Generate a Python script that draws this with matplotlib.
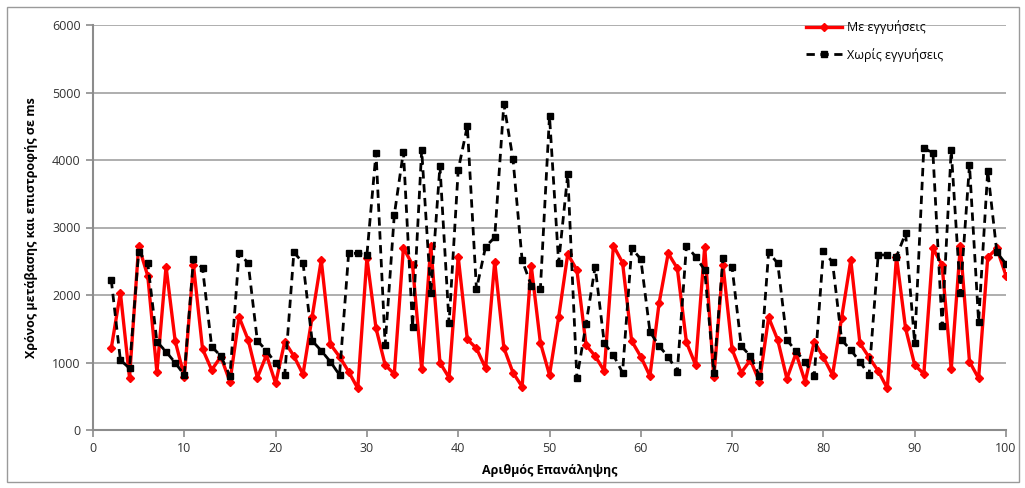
import matplotlib
matplotlib.use("Agg")
import matplotlib.pyplot as plt
from matplotlib.patches import Rectangle

plt.rcParams['font.family'] = ['Open Sans', 'DejaVu Sans']

iterations = list(range(2, 101))

with_guarantees = [
    1210, 2035, 775, 2726, 2281, 854, 2420, 1319, 790,            # 2-10
    2444, 1200, 890, 1086, 716, 1674, 1333, 775, 1111, 691,        # 11-20
    1309, 1096, 825, 1674, 2518, 1270, 1086, 864, 617, 2550,       # 21-30
    1506, 963, 830, 2701, 2444, 899, 2730, 997, 775, 2568,         # 31-40
    1343, 1210, 914, 2494, 1220, 849, 642, 2434, 1294, 815,        # 41-50
    1669, 2607, 2370, 1259, 1096, 874, 2730, 2479, 1319, 1086,     # 51-60
    800, 1877, 2617, 2395, 1299, 963, 2716, 780, 2444, 1195,       # 61-70
    849, 1037, 716, 1669, 1333, 760, 1136, 716, 1309, 1077,        # 71-80
    815, 1664, 2518, 1284, 1077, 874, 617, 2568, 1506, 963,        # 81-90
    830, 2691, 2444, 899, 2730, 1012, 766, 2558, 2691, 2286,       # 91-100
]

without_guarantees = [
    2222, 1037, 914, 2642, 2469, 1309, 1160, 997, 815,            # 2-10
    2533, 2395, 1235, 1096, 800, 2627, 2469, 1323, 1175, 988,      # 11-20
    815, 2632, 2479, 1323, 1175, 1012, 815, 2617, 2617, 2593,      # 21-30
    4109, 1259, 3185, 4123, 1531, 4148, 2025, 3911, 1580, 3852,    # 31-40
    4504, 2084, 2716, 2854, 4830, 4015, 2518, 2138, 2089, 4652,    # 41-50
    2479, 3788, 766, 1566, 2420, 1284, 1111, 849, 2691, 2533,      # 51-60
    1457, 1244, 1086, 864, 2730, 2568, 2370, 840, 2543, 2410,      # 61-70
    1244, 1096, 800, 2632, 2469, 1333, 1170, 1003, 805, 2657,      # 71-80
    2484, 1333, 1185, 1012, 815, 2593, 2593, 2568, 2914, 1284,     # 81-90
    4183, 4099, 1541, 4148, 2025, 3926, 1605, 3842, 2632, 2459,    # 91-100
]

series_labels = ['Με εγγυήσεις', 'Χωρίς εγγυήσεις']
x_label = 'Αριθμός Επανάληψης'
y_label = 'Χρόνος μετάβασης και επιστροφής σε ms'
x_ticks = list(range(0, 101, 10))
y_ticks = list(range(0, 6001, 1000))

W, H = 1025, 488
fig = plt.figure(figsize=(W / 100, H / 100), dpi=100)
fig.patches.append(Rectangle((7 / W, 6 / H), (1019 - 7) / W, (481 - 6) / H,
                             transform=fig.transFigure, fill=False,
                             edgecolor='#9a9a9a', linewidth=1.0))

ax = fig.add_axes([93 / W, (H - 430) / H, (1006 - 93) / W, (430 - 25) / H])

ax.plot(iterations, with_guarantees, color='#ff0000', linewidth=2.4,
        marker='D', markersize=4.5, label=series_labels[0], zorder=3)
ax.plot(iterations, without_guarantees, color='black', linewidth=2.0,
        linestyle=(0, (3, 2)), marker='s', markersize=5,
        label=series_labels[1], zorder=4)

ax.set_xlim(0, 100)
ax.set_ylim(0, 6000)
ax.set_xticks(x_ticks)
ax.set_yticks(y_ticks)

ax.yaxis.grid(True, color='#a8a8a8', linewidth=1.3)
ax.set_axisbelow(True)
for s in ['top', 'right']:
    ax.spines[s].set_visible(False)
for s in ['left', 'bottom']:
    ax.spines[s].set_color('#8c8c8c')
    ax.spines[s].set_linewidth(1.5)

ax.tick_params(axis='both', direction='out', length=5, width=1.2,
               color='#8c8c8c', labelsize=9, labelcolor='#333333', pad=4)

ax.set_xlabel(x_label, fontsize=9, fontweight='bold', labelpad=6)
ax.set_ylabel(y_label, fontsize=9, fontweight='bold', labelpad=10)

leg = ax.legend(loc='upper left', bbox_to_anchor=(0.781, 1.012),
                frameon=False, fontsize=9, handlelength=2.9,
                handletextpad=0.4, labelspacing=1.1, borderaxespad=0,
                borderpad=0)

fig.savefig('out.png', dpi=100)
